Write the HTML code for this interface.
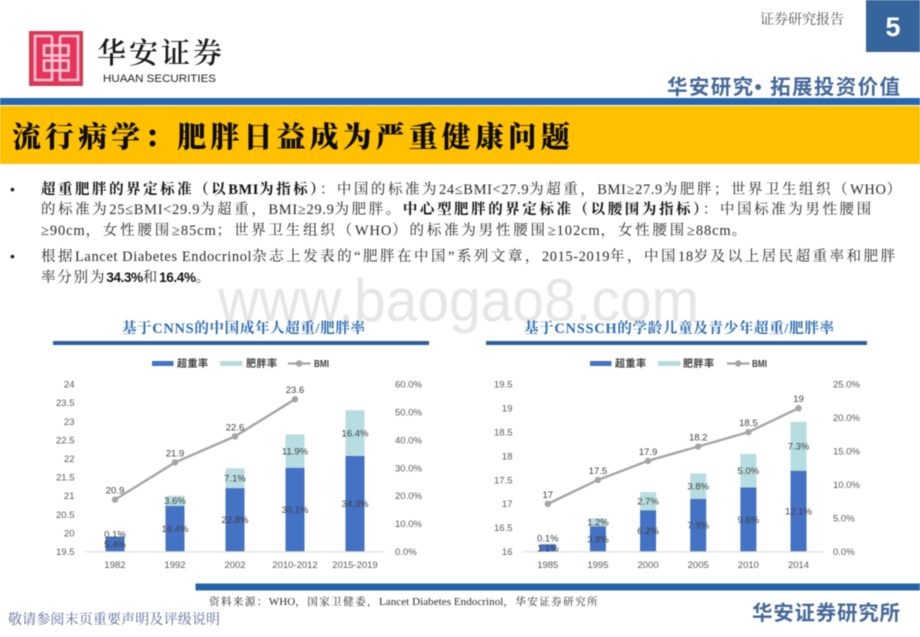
<!DOCTYPE html>
<html lang="zh-CN">
<head>
<meta charset="utf-8">
<title>流行病学：肥胖日益成为严重健康问题</title>
<style>
html,body{margin:0;padding:0;background:#fff;width:920px;height:637px;overflow:hidden}
svg{display:block;filter:blur(.4px)}
.serif{font-family:"Liberation Serif","Noto Serif CJK SC",serif}
.sans{font-family:"Liberation Sans","Noto Sans CJK SC",sans-serif}
.body{font-family:"Liberation Serif","Noto Serif CJK SC",serif;font-size:14.5px;fill:#2a2a2a;letter-spacing:1.9px}
.body .l{letter-spacing:0;font-size:14.5px}
.body .b{font-weight:700;fill:#111}
.body .n{font-family:"Liberation Sans",sans-serif;font-size:13.5px;letter-spacing:-.3px;font-weight:700;fill:#111}
.tick{font-family:"Liberation Sans",sans-serif;font-size:9.5px;fill:#595959}
.val{font-family:"Liberation Sans",sans-serif;font-size:9.5px;fill:#404040}
.leg{font-family:"Liberation Sans","Noto Sans CJK SC",sans-serif;font-size:10px;font-weight:700;fill:#404040}
</style>
</head>
<body>
<svg id="page" xmlns="http://www.w3.org/2000/svg" width="920" height="637" viewBox="0 0 920 637">
  <text x="218" y="321" class="sans" font-size="60" fill="#e6e6e6" textLength="481" lengthAdjust="spacingAndGlyphs">www.baogao8.com</text>

  <g>
    <rect x="29" y="31" width="54" height="55" fill="#c9404f"/>
    <rect x="31" y="33" width="50" height="51" fill="#e5335a"/>
    <g fill="none" stroke="#ffc4d2" stroke-width="2.6">
      <path d="M52 36H35V80H52V36M60 36H78V80H60V36"/>
      <rect x="44" y="45.5" width="24.5" height="10"/>
      <rect x="44" y="60.5" width="24.5" height="10"/>
    </g>
    <g fill="#a0525c">
      <rect x="46.5" y="48.5" width="3.5" height="4"/><rect x="62" y="48.5" width="3.5" height="4"/>
      <rect x="46.5" y="63.5" width="3.5" height="4"/><rect x="62" y="63.5" width="3.5" height="4"/>
    </g>
    <text x="97" y="63" class="serif" font-size="29" font-weight="600" fill="#1a1a1a" textLength="125" lengthAdjust="spacing">华安证券</text>
    <text x="103" y="82" class="sans" font-size="11" fill="#222" textLength="113" lengthAdjust="spacingAndGlyphs">HUAAN SECURITIES</text>
  </g>

  <text x="760" y="24" class="serif" font-size="14" fill="#555" textLength="84">证券研究报告</text>
  <rect x="866" y="0" width="54" height="52" fill="#35659a"/>
  <text x="893" y="36" class="sans" font-size="27" font-weight="700" fill="#fff" text-anchor="middle">5</text>
  <text x="667" y="94" class="sans" font-size="20.5" font-weight="700" fill="#44689a" textLength="233">华安研究• 拓展投资价值</text>

  <rect x="0" y="98" width="920" height="7" fill="#2a66b0"/>
  <rect x="0" y="106" width="920" height="58" fill="#ffc000"/>
  <text x="12" y="147" class="serif" font-size="29" font-weight="900" fill="#0c0c0c" textLength="558">流行病学：肥胖日益成为严重健康问题</text>

  <g>
    <text x="10" y="194" class="sans" font-size="14" fill="#222">•</text>
    <text x="41" y="194" class="body" textLength="862"><tspan class="b">超重肥胖的界定标准（以</tspan><tspan class="b l">BMI</tspan><tspan class="b">为指标）</tspan>：中国的标准为<tspan class="l">24≤BMI&lt;27.9</tspan>为超重，<tspan class="l">BMI≥27.9</tspan>为肥胖；世界卫生组织（<tspan class="l">WHO</tspan>）</text>
    <text x="41" y="214" class="body" textLength="832">的标准为<tspan class="l">25≤BMI&lt;29.9</tspan>为超重，<tspan class="l">BMI≥29.9</tspan>为肥胖。<tspan class="b">中心型肥胖的界定标准（以腰围为指标）</tspan>：中国标准为男性腰围</text>
    <text x="41" y="235" class="body" textLength="707"><tspan class="l">≥90cm</tspan>，女性腰围<tspan class="l">≥85cm</tspan>；世界卫生组织（<tspan class="l">WHO</tspan>）的标准为男性腰围<tspan class="l">≥102cm</tspan>，女性腰围<tspan class="l">≥88cm</tspan>。</text>
    <text x="10" y="261" class="sans" font-size="14" fill="#222">•</text>
    <text x="41" y="261" class="body" textLength="856">根据<tspan class="l">Lancet Diabetes Endocrinol</tspan>杂志上发表的“肥胖在中国”系列文章，<tspan class="l">2015-2019</tspan>年，中国<tspan class="l">18</tspan>岁及以上居民超重率和肥胖</text>
    <text x="41" y="282" class="body" textLength="171">率分别为<tspan class="n">34.3%</tspan>和<tspan class="n">16.4%</tspan>。</text>
  </g>

  <text x="122" y="333" class="serif" font-size="14.5" font-weight="700" fill="#2b6cb0" textLength="243">基于CNNS的中国成年人超重/肥胖率</text>
  <rect x="53" y="341" width="376" height="4" fill="#2e5f9e"/>
  <text x="524" y="333" class="serif" font-size="14.5" font-weight="700" fill="#2b6cb0" textLength="310">基于CNSSCH的学龄儿童及青少年超重/肥胖率</text>
  <rect x="486" y="341" width="381" height="4" fill="#2e5f9e"/>

  <g id="adult-chart"></g>
  <g id="youth-chart"></g>

  <rect x="195.5" y="583.5" width="724.5" height="7" fill="#2563a8"/>
  <text x="209" y="605" class="body" style="font-size:10.5px;letter-spacing:1.4px" textLength="390">资料来源：<tspan style="letter-spacing:0;font-size:11px">WHO</tspan>，国家卫健委，<tspan style="letter-spacing:0;font-size:11px">Lancet Diabetes Endocrinol</tspan>，华安证券研究所</text>
  <text x="8" y="624" class="serif" font-size="14" fill="#5a6a9a" textLength="212">敬请参阅末页重要声明及评级说明</text>
  <text x="752" y="620" class="sans" font-size="20.5" font-weight="700" fill="#44689a" textLength="148">华安证券研究所</text>
</svg>

<script>
const adultCategories = ['1982', '1992', '2002', '2010-2012', '2015-2019'];
const adultOverweight = [5.4, 16.4, 22.8, 30.1, 34.3];
const adultObese = [0.1, 3.6, 7.1, 11.9, 16.4];
const adultBmi = [20.9, 21.9, 22.6, 23.6, null];
const adultLeftTicks = [19.5, 20, 20.5, 21, 21.5, 22, 22.5, 23, 23.5, 24];
const adultRightTicks = [0, 10, 20, 30, 40, 50, 60];

const youthCategories = ['1985', '1995', '2000', '2005', '2010', '2014'];
const youthOverweight = [1.1, 3.8, 6.2, 7.9, 9.6, 12.1];
const youthObese = [0.1, 1.2, 2.7, 3.8, 5.0, 7.3];
const youthBmi = [17, 17.5, 17.9, 18.2, 18.5, 19];
const youthLeftTicks = [16, 16.5, 17, 17.5, 18, 18.5, 19, 19.5];
const youthRightTicks = [0, 5, 10, 15, 20, 25];

const NS = 'http://www.w3.org/2000/svg';

function make(parent, tag, attrs, text) {
  const el = document.createElementNS(NS, tag);
  for (const k in attrs) el.setAttribute(k, attrs[k]);
  if (text !== undefined) el.textContent = text;
  parent.appendChild(el);
  return el;
}

function drawChart(root, prefix, cats, over, obese, bmi, leftTicks, rightTicks, box) {
  const lMin = leftTicks[0], lMax = leftTicks[leftTicks.length - 1];
  const rMin = rightTicks[0], rMax = rightTicks[rightTicks.length - 1];
  const yLeft = v => box.bottom - (v - lMin) / (lMax - lMin) * (box.bottom - box.top);
  const yRight = v => box.bottom - (v - rMin) / (rMax - rMin) * (box.bottom - box.top);
  const step = (box.x1 - box.x0) / cats.length;
  const xCat = i => box.x0 + step * (i + 0.5);

  leftTicks.forEach(t => {
    const el = make(root, 'text', {x: box.leftLabelX, y: yLeft(t) + 3.3, 'text-anchor': 'end', class: 'tick'}, String(t));
    
    
  });
  rightTicks.forEach(t => {
    const el = make(root, 'text', {x: box.rightLabelX, y: yRight(t) + 3.3, class: 'tick'}, t.toFixed(1) + '%');
    
    
  });

  cats.forEach((c, i) => {
    const cx = xCat(i);
    const y1 = yRight(over[i]);
    const y2 = yRight(over[i] + obese[i]);
    const barA = make(root, 'rect', {x: cx - box.barWidth / 2, y: y1, width: box.barWidth, height: box.bottom - y1, fill: '#4472c4'});
    
    
    const barB = make(root, 'rect', {x: cx - box.barWidth / 2, y: y2, width: box.barWidth, height: y1 - y2, fill: '#b7dde0'});
    
    
    const tick = make(root, 'text', {x: cx, y: box.bottom + 16.5, 'text-anchor': 'middle', class: 'tick'}, c);
    
    
  });

  const axis = make(root, 'line', {x1: box.x0, x2: box.x1, y1: box.bottom, y2: box.bottom, stroke: '#d9d9d9', 'stroke-width': 1});
  
  

  let d = '';
  bmi.forEach((v, i) => {
    if (v === null) return;
    d += (d ? 'L' : 'M') + xCat(i) + ' ' + yLeft(v);
  });
  const line = make(root, 'path', {d: d, fill: 'none', stroke: '#a5a5a5', 'stroke-width': 2.4});
  
  

  bmi.forEach((v, i) => {
    if (v === null) return;
    const dot = make(root, 'circle', {cx: xCat(i), cy: yLeft(v), r: 3.2, fill: '#a5a5a5'});
    
    
    const lab = make(root, 'text', {x: xCat(i), y: yLeft(v) - 6, 'text-anchor': 'middle', class: 'val'}, String(v));
    
    
  });

  cats.forEach((c, i) => {
    const cx = xCat(i);
    const la = make(root, 'text', {x: cx, y: yRight(over[i] / 2) + 3.3, 'text-anchor': 'middle', class: 'val'}, over[i].toFixed(1) + '%');
    
    
    const lift = obese[i] < 1 ? box.smallLift : 0;
    const lb = make(root, 'text', {x: cx, y: yRight(over[i] + obese[i] / 2) + 3.3 - lift, 'text-anchor': 'middle', class: 'val'}, obese[i].toFixed(1) + '%');
    
    
  });

  const ly = box.legendY;
  const s1 = make(root, 'rect', {x: box.legX[0], y: ly - 2.5, width: 21.5, height: 5, fill: '#4472c4'});
  
  
  const t1 = make(root, 'text', {x: box.legX[1], y: ly + 3.6, class: 'leg', textLength: 31}, '超重率');
  
  
  const s2 = make(root, 'rect', {x: box.legX[2], y: ly - 2.5, width: 22.5, height: 5, fill: '#b7dde0'});
  
  
  const t2 = make(root, 'text', {x: box.legX[3], y: ly + 3.6, class: 'leg', textLength: 31}, '肥胖率');
  
  
  const s3 = make(root, 'line', {x1: box.legX[4], x2: box.legX[4] + 22.5, y1: ly, y2: ly, stroke: '#a5a5a5', 'stroke-width': 2.2});
  
  
  const s4 = make(root, 'circle', {cx: box.legX[4] + 11.2, cy: ly, r: 3.2, fill: '#a5a5a5'});
  
  
  const t3 = make(root, 'text', {x: box.legX[5], y: ly + 3.6, class: 'leg', textLength: 15, lengthAdjust: 'spacingAndGlyphs'}, 'BMI');
  
  
}

drawChart(document.getElementById('adult-chart'), 'adult', adultCategories, adultOverweight, adultObese, adultBmi, adultLeftTicks, adultRightTicks,
  {x0: 85, x1: 385, top: 384.3, bottom: 551.7, barWidth: 19, leftLabelX: 74.5, rightLabelX: 395, smallLift: 2.5, legendY: 363.5, legX: [152, 177, 220, 246, 288, 314]});
drawChart(document.getElementById('youth-chart'), 'youth', youthCategories, youthOverweight, youthObese, youthBmi, youthLeftTicks, youthRightTicks,
  {x0: 522.7, x1: 823.6, top: 384.3, bottom: 551.7, barWidth: 16, leftLabelX: 512.5, rightLabelX: 833, smallLift: 6, legendY: 363.5, legX: [590, 615, 658, 683, 727, 752]});
</script>
</body>
</html>
